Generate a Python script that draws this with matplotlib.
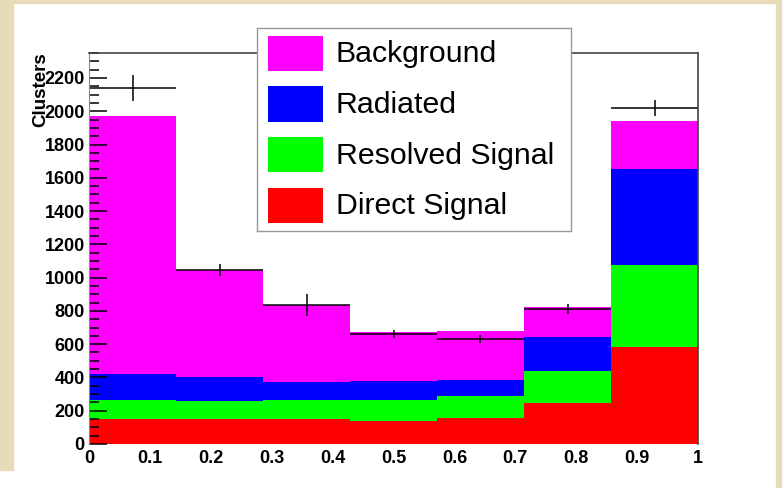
import matplotlib
matplotlib.use('Agg')
import matplotlib.pyplot as plt
from matplotlib.patches import Rectangle
from matplotlib.ticker import MultipleLocator, FixedLocator
import numpy as np

# stacked components per bin (7 bins from 0 to 1)
n_bins = 7
direct = [149, 149, 149, 141, 159, 249, 581]
resolved = [116, 112, 116, 124, 130, 187, 494]
radiated = [157, 143, 105, 115, 97, 209, 577]
background = [1547, 639, 464, 295, 291, 177, 291]
data = [2141, 1043, 833, 663, 631, 812, 2021]
data_err = [77, 36, 66, 25, 26, 29, 47]

labels = ['Background', 'Radiated', 'Resolved Signal', 'Direct Signal']
colors = ['#ff00ff', '#0000ff', '#00ff00', '#ff0000']
xticks = [0, 0.1, 0.2, 0.3, 0.4, 0.5, 0.6, 0.7, 0.8, 0.9, 1]
xticklabels = ['0', '0.1', '0.2', '0.3', '0.4', '0.5', '0.6', '0.7', '0.8', '0.9', '1']

W, H = 782, 488
beige = '#e8dcb8'
plt.rcParams['font.family'] = ['Liberation Sans', 'DejaVu Sans']
plt.rcParams['font.weight'] = 'bold'

fig = plt.figure(figsize=(W / 100, H / 100), dpi=100)

# beige frame pieces around the canvas
fig.patches.append(Rectangle((0, 1 - 470 / H), 13 / W, 470 / H, transform=fig.transFigure,
                             color=beige, zorder=0))
fig.patches.append(Rectangle((776 / W, 0), 6 / W, 1, transform=fig.transFigure,
                             color=beige, zorder=0))
fig.patches.append(Rectangle((13 / W, 1 - 3 / H), 763 / W, 3 / H, transform=fig.transFigure,
                             color=beige, zorder=0))

ax = fig.add_axes([89 / W, 1 - 444 / H, 609 / W, 391 / H])

edges = np.linspace(0, 1, n_bins + 1)
width = edges[1] - edges[0]
centers = edges[:-1] + width / 2

# stack from the bottom up
bottom = np.zeros(n_bins)
for vals, col in zip([direct, resolved, radiated, background], colors[::-1]):
    ax.bar(edges[:-1], vals, width=width, bottom=bottom, align='edge', color=col,
           linewidth=0, antialiased=False, zorder=1)
    bottom = bottom + np.array(vals)

ax.errorbar(centers, data, xerr=width / 2, yerr=data_err, fmt='none', ecolor='black',
            elinewidth=1.1, capsize=0, zorder=3)

ax.yaxis.set_major_locator(MultipleLocator(200))
ax.yaxis.set_minor_locator(MultipleLocator(50))
ax.tick_params(axis='y', which='major', direction='in', length=13, width=1.1, color='black',
               labelsize=13, pad=3)
ax.tick_params(axis='y', which='minor', direction='in', length=7, width=1.1, color='black')

ax.xaxis.set_major_locator(FixedLocator(xticks))
ax.set_xticklabels(xticklabels, fontsize=13)
ax.tick_params(axis='x', which='both', length=0, pad=4)

ax.set_xlim(0, 1)
ax.set_ylim(0, 2350)

for s in ['top', 'right']:
    ax.spines[s].set_color('#444444')
    ax.spines[s].set_linewidth(1.2)
ax.spines['left'].set_color('#888888')
ax.spines['bottom'].set_visible(False)
ax.set_axisbelow(False)
for s in ax.spines.values():
    s.set_zorder(4)

fig.text(41 / W, 1 - 90 / H, 'Clusters', rotation=90, fontsize=13.5,
         ha='center', va='center')

# legend box, laid out in pixel units
lax = fig.add_axes([257 / W, 1 - 231 / H, 314 / W, 203 / H], zorder=5)
lax.set_xlim(0, 314)
lax.set_ylim(203, 0)
lax.set_xticks([])
lax.set_yticks([])
for s in lax.spines.values():
    s.set_color('#999999')
    s.set_linewidth(1)
row_tops = [7.7, 58.3, 109, 159.7]
for top, lab, col in zip(row_tops, labels, colors):
    lax.add_patch(Rectangle((10.7, top), 55.3, 35.3, facecolor=col, edgecolor='none'))
    lax.text(79, top + 18.5, lab, fontsize=21.8, fontweight='normal', va='center', ha='left')

fig.savefig('out.png', dpi=100)
